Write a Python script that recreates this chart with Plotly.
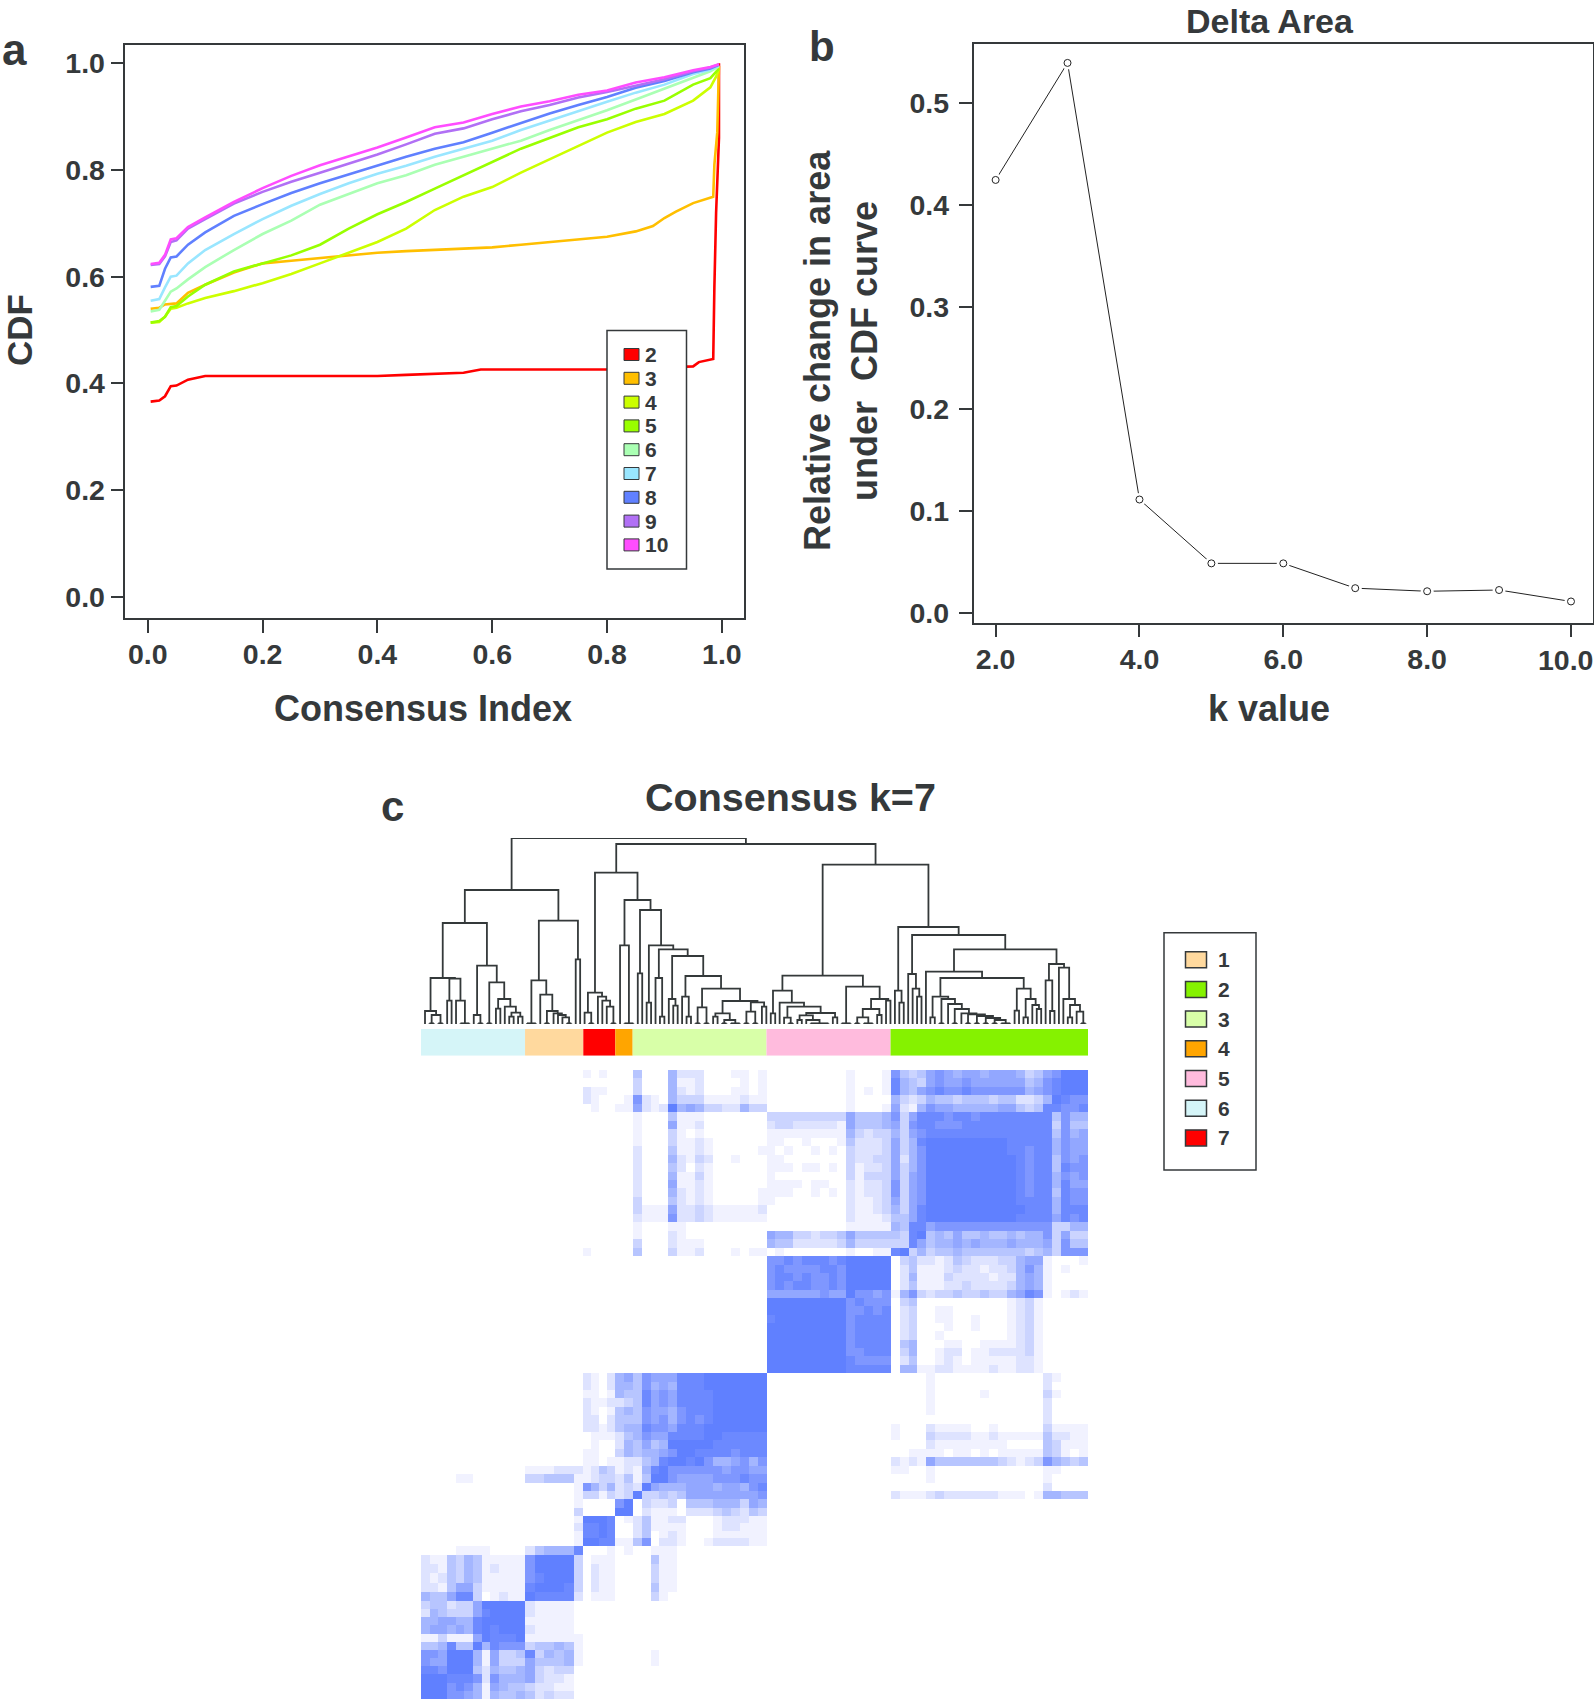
import plotly.graph_objects as go

W = 1594
H = 1699
INK = "#35393b"
FONT = "Liberation Sans"

# panel a: consensus CDF, one x grid per curve
cdf_x = [0.005, 0.02, 0.03, 0.04, 0.05, 0.07, 0.10, 0.15, 0.20, 0.25, 0.30, 0.35, 0.40, 0.45, 0.50,
         0.55, 0.60, 0.65, 0.70, 0.75, 0.80, 0.85, 0.90, 0.95, 0.98, 0.995]
cdf_10 = [0.624, 0.626, 0.641, 0.670, 0.672, 0.693, 0.711, 0.740, 0.766, 0.789, 0.809, 0.826, 0.842, 0.861, 0.880,
          0.889, 0.905, 0.919, 0.929, 0.941, 0.949, 0.964, 0.974, 0.987, 0.993, 0.998]
cdf_9 = [0.622, 0.624, 0.638, 0.665, 0.668, 0.690, 0.708, 0.737, 0.759, 0.778, 0.795, 0.812, 0.829, 0.848, 0.868,
         0.878, 0.895, 0.910, 0.922, 0.936, 0.946, 0.958, 0.970, 0.985, 0.992, 0.998]
cdf_8 = [0.581, 0.583, 0.615, 0.636, 0.638, 0.660, 0.683, 0.714, 0.736, 0.757, 0.775, 0.792, 0.808, 0.825, 0.840,
         0.852, 0.870, 0.888, 0.906, 0.922, 0.937, 0.954, 0.967, 0.983, 0.990, 0.997]
cdf_7 = [0.555, 0.558, 0.580, 0.600, 0.602, 0.625, 0.650, 0.680, 0.708, 0.733, 0.755, 0.775, 0.793, 0.808, 0.825,
         0.840, 0.855, 0.875, 0.893, 0.910, 0.928, 0.945, 0.960, 0.980, 0.988, 0.996]
cdf_6 = [0.535, 0.538, 0.555, 0.572, 0.578, 0.595, 0.618, 0.650, 0.680, 0.705, 0.735, 0.755, 0.775, 0.790, 0.810,
         0.825, 0.840, 0.855, 0.875, 0.893, 0.912, 0.932, 0.952, 0.973, 0.985, 0.994]
cdf_5_x = cdf_x[:25] + [0.99, 0.995]
cdf_5 = [0.514, 0.517, 0.525, 0.543, 0.545, 0.563, 0.585, 0.610, 0.625, 0.640, 0.660, 0.690, 0.717, 0.740, 0.765,
         0.790, 0.815, 0.840, 0.860, 0.880, 0.895, 0.915, 0.930, 0.960, 0.972, 0.985, 0.990]
cdf_4_x = cdf_x[:25] + [0.99, 0.995]
cdf_4 = [0.514, 0.515, 0.525, 0.540, 0.542, 0.550, 0.560, 0.573, 0.588, 0.605, 0.625, 0.645, 0.665, 0.690, 0.725,
         0.750, 0.768, 0.795, 0.820, 0.845, 0.870, 0.890, 0.905, 0.930, 0.955, 0.975, 0.990]
cdf_3_x = [0.005, 0.02, 0.03, 0.05, 0.07, 0.10, 0.15, 0.20, 0.25, 0.30, 0.35, 0.40, 0.45, 0.50, 0.55, 0.60, 0.65,
           0.70, 0.75, 0.80, 0.85, 0.88, 0.90, 0.92, 0.95, 0.985, 0.987, 0.992, 0.995]
cdf_3 = [0.540, 0.542, 0.548, 0.550, 0.570, 0.585, 0.608, 0.625, 0.630, 0.635, 0.641, 0.645, 0.648, 0.650, 0.653,
         0.655, 0.660, 0.665, 0.670, 0.675, 0.685, 0.695, 0.710, 0.722, 0.738, 0.750, 0.810, 0.870, 0.995]
cdf_2_x = [0.005, 0.02, 0.03, 0.04, 0.05, 0.07, 0.10, 0.20, 0.30, 0.40, 0.45, 0.50, 0.55, 0.58, 0.65, 0.70, 0.80,
           0.85, 0.90, 0.95, 0.96, 0.985, 0.987, 0.99, 0.995, 0.995]
cdf_2 = [0.366, 0.368, 0.376, 0.395, 0.396, 0.407, 0.414, 0.414, 0.414, 0.414, 0.416, 0.418, 0.420, 0.426, 0.426,
         0.426, 0.426, 0.428, 0.430, 0.432, 0.440, 0.446, 0.580, 0.720, 0.860, 1.000]

cdf_names = ["2", "3", "4", "5", "6", "7", "8", "9", "10"]
cdf_colors = ["#ff0000", "#ffbf00", "#ccff00", "#99ff00", "#aaffb3", "#99e6ff", "#6080ff", "#b170f5", "#ff4dff"]
cdf_curves = [(cdf_2_x, cdf_2), (cdf_3_x, cdf_3), (cdf_4_x, cdf_4), (cdf_5_x, cdf_5), (cdf_x, cdf_6),
              (cdf_x, cdf_7), (cdf_x, cdf_8), (cdf_x, cdf_9), (cdf_x, cdf_10)]

# panel b: delta area
delta_k = [2, 3, 4, 5, 6, 7, 8, 9, 10]
delta_area = [0.4244, 0.539, 0.1115, 0.049, 0.049, 0.0247, 0.0217, 0.0229, 0.0117]
delta_ticks = [2, 4, 6, 8, 10]
delta_tick_text = ["2.0", "4.0", "6.0", "8.0", ""]

# panel c: clusters in plot order, width (150 samples in all)
cluster_names = ["6", "1", "7", "4", "3", "5", "2"]
cluster_widths = [23.4, 13.1, 7.2, 3.9, 30.1, 27.9, 44.4]
cluster_cells = [12, 6, 4, 2, 15, 14, 22]
cluster_colors = ["#d5f5f8", "#ffd99e", "#ff0000", "#ffa500", "#d8ffa8", "#ffbbdd", "#85f200"]
legend_c_names = ["1", "2", "3", "4", "5", "6", "7"]
legend_c_colors = ["#ffd99e", "#85f200", "#d8ffa8", "#ffa500", "#ffbbdd", "#d5f5f8", "#ff0000"]

# consensus values by cluster pair, rows from the top of the picture, 0-9 with . for empty
green_green = ["7434676566566653467999", "8543676676666664578999", "8546787787777775678999",
               "5323544344434422359877", "6215766555556643488778", "7368887887888888884755",
               "6378877788888888883744", "5367888888888888884756", "6358999999999888885766",
               "6357999999999887885766", "6257999999999987884767", "6357999999999987884877",
               "6367999999999987885767", "7367999999999987885866", "7367999999999987884877",
               "6367999999999988885877", "5368999999999998885888", "4468999999999988886878",
               "5488677777777777773355", "4389454644544545573633", "3386455656555655563744",
               "8935344544444443453777"]
green_pink = [".........1...1", ".........1...1", ".........1.1.1", ".........1....", ".........1...1",
              "33333333364445", "23322222164445", "11111111153233", "11..1...142223", "1.1..1.1.32223",
              "11.......32233", "111.11.1.31223", "1........31333", "1111.11..21223", "111..1.1.21223",
              "1........21123", ".........21123", ".........21112", ".........11111", "65533233464444",
              "54422222353333", ".1.......1..11"]
green_ltgreen = ["4...5222...11.1", "3...5112....1.1", "3...5212...11.1", "721.53331111211", "621295653322533",
                 "1...4111.......", "1...6112.......", "1...31.1.......", "1...31121......", "2...41121.....1",
                 "2...52132..1...", "2...42.21......", "2...51131......", "2...61121......", "2...52121.....1",
                 "3...42121.....1", "311162232111112", "211172232111111", "1...11.........", "1...21.........",
                 "3...2111.......", "4...3112...1.11"]
green_orange = ["", "", "", ".1", "11"]
green_red = ["1.1.", "", "211.", "21..", ".1..", "", "", "", "", "", "", "", "", "", "", "", "", "", "", "", "", "1..."]
pink_pink = ["77878887899999", "78777788799999", "78878778799999", "78788778799999", "66666676697767",
             "99999999978777", "99999999977878", "89999999978888", "99999999978888", "99999999978888",
             "99999999978888", "99999999977888", "99999999987777", "99999999988888"]
pink_green = [".34221243222335661...1", ".24111232212235751.1..", ".25111322221225651....",
              ".24111223222235651....", "157323343343356871.121", ".34..........1231.....",
              ".23..11......1231.....", ".23..11..1...1231.....", ".23...1..1...1231.....",
              ".23..1.......1231.....", ".45...11..1111231.....", ".35..122.11222231.....",
              ".24..121.11111221.....", ".5511221111211221....."]
ltgreen_green = ["....1............21...", "....1............2....", "....1.....1......31...",
                 "....1............2....", "....1............2....", ".................2....",
                 "1...21111..1.....31111", "1...322221121111142211", "....211111111....43111",
                 "..1111.11.1.11111431.1", "2121644444443212375434", "11..1............11...",
                 "....1............1....", ".................2....", "211123222222111.155444"]
ltgreen_ltgreen = ["476668889999999", "475658889999999", "486768888999999", "486768888999999", "476657888999999",
                   "476757878999999", "587768889999999", "576688889988888", "464599999888888", "455679988887888",
                   "245899897556757", "158977777767766", "149976666777877", "296555666566578", "933434666666667"]
ltgreen_orange = ["56", "55", "54", "23", "45", "44", "45", "24", "25", "35", "12", "12", "24", "23", "23"]
ltgreen_red = ["21.2", "21.2", "11.1", "2112", "21.1", "22.2", "2212", ".111", ".1..", "11..", "11.1", "1243",
               "1233", "7535", "3313"]
ltgreen_peach = ["", "", "", "", "", "", "", "", "", "", "", "111222", "334441", ".....1", ".....1"]
ltgreen_cyan = ["", "", "", "", "", "", "", "", "", "", "", "", "....11"]
orange_orange = ["79", "99"]
orange_ltgreen = [".3223.444555365", ".2111.222343243"]
orange_peach = [".....1", ".....3"]
red_red = ["9998", "8898", "8898", "9988"]
red_orange = [".1", "", "", "11"]
red_ltgreen = ["241122...122211", "241111...122111", "24.121...111111", "47.221..1222211"]
red_peach = [".....1", ".....2", ".....1", ".....1"]
peach_peach = ["245558", "799993", "799993", "789993", "899983", "988882"]
peach_red = ["...1", ".111", ".211", ".211", ".211", ".111"]
peach_orange = [".1"]
peach_ltgreen = ["..111", "..411", "..311", "..311", "..411", "..31"]
peach_cyan = ["....1111", "211435411111", "221435412111", "212435411111", "221466311111", "5446883.1211"]
cyan_cyan = ["344233699999", "254333689999", "556655899999", "566565898999", "113111698889", "445844958777",
             "776999516334", "766999516333", "887999425445", "999888727555", "999787516544", "999776515445"]
cyan_peach = ["21111.", "21111.", "11111.", "21111.", "111111", "344541", "835451", "644451", "63233.", "63221.",
              "32211.", "42322."]
cyan_ltgreen = ["", "", "", "", "", "", "..1", "..1"]

heat_blocks = {
    (6, 6): green_green, (6, 5): green_pink, (6, 4): green_ltgreen, (6, 3): green_orange, (6, 2): green_red,
    (5, 5): pink_pink, (5, 6): pink_green,
    (4, 6): ltgreen_green, (4, 4): ltgreen_ltgreen, (4, 3): ltgreen_orange, (4, 2): ltgreen_red,
    (4, 1): ltgreen_peach, (4, 0): ltgreen_cyan,
    (3, 3): orange_orange, (3, 4): orange_ltgreen, (3, 1): orange_peach,
    (2, 2): red_red, (2, 3): red_orange, (2, 4): red_ltgreen, (2, 1): red_peach,
    (1, 1): peach_peach, (1, 2): peach_red, (1, 3): peach_orange, (1, 4): peach_ltgreen, (1, 0): peach_cyan,
    (0, 0): cyan_cyan, (0, 1): cyan_peach, (0, 4): cyan_ltgreen,
}

# dendrogram: (height, left, right), a bare number is that many leaves tied at the baseline
dendro_cluster6 = (303,
                   (138, (39, 1, (27, 2, 2)), (136, (70, 1, 1), (70, 1, 3))),
                   (175, (27, 1, 2), (125, 2, (75, (46, 1, 1), (52, 1, (34, (22, 1, 1), (22, 1, 1)))))))
dendro_cluster1 = (310, (131, 3, (88, 1, (39, 2, (32, 1, (27, 1, (20, 1, 2)))))), (194, 1, 1))
dendro_cluster7 = (94, (34, 1, 2), (82, 1, (70, 1, (52, 1, 2))))
dendro_cluster34 = (372, (236, 1, 3),
                    (342, (152, 1, 1),
                     (236, (64, 1, 1),
                      (224, (138, 1, (22, 1, 1)),
                       (204, (75, 1, (55, 1, 1)),
                        (144, (82, 1, (22, 1, 1)),
                         (106, (50, 2, 2),
                          (69, (32, (22, 1, 1), (12, 2, 3)), (65, (37, 2, 2), (52, 1, 1))))))))))
dendro_cluster5 = (145,
                   (100, (32, 1, 1),
                    (64, 1, (52, (19, 1, 2), (33, (26, (12, 1, 1), (12, 1, 5)), (20, 1, 1))))),
                   (112, 3, (75, (45, (20, 2, 3), (27, 1, 1)), (70, 1, 1))))
dendro_cluster2 = (291, (100, 1, (64, 1, 1)),
                   (267, (150, 1, (106, 1, (82, 1, 1))),
                    (224,
                     (157, 1,
                      (138,
                       (82, (20, 1, 1),
                        (75, 2, (60, 1, (45, 2, (32, 1, (29, 2, (24, 2, (18, 2, (12, 2, 3))))))))),
                       (106, (40, 1, 1), (75, (20, 1, 1), (57, 1, (45, 1, 1)))))),
                     (180, (131, 1, (39, 1, 1)), (169, 1, (75, 1, (57, (20, 1, 1), (37, 1, 2))))))))
dendro_root = (558,
               (402, dendro_cluster6, dendro_cluster1),
               (540, (454, dendro_cluster7, dendro_cluster34), (478, dendro_cluster5, dendro_cluster2)))


def px_x(x):
    return x / W


def px_y(y):
    return 1 - y / H


def text_note(text, x, y, size, angle=0):
    return dict(text=text, x=px_x(x), y=px_y(y), xref="paper", yref="paper", showarrow=False, textangle=angle,
                xanchor="center", yanchor="middle", align="center",
                font=dict(family=FONT, size=size, color=INK, weight="bold"))


def box_shape(x0, y0, x1, y1, fill, line=INK, width=1.5):
    return dict(type="rect", xref="paper", yref="paper", x0=px_x(x0), x1=px_x(x1), y0=px_y(y0), y1=px_y(y1),
                fillcolor=fill, line=dict(color=line, width=width))


# heatmap matrix from the blocks, bottom row first
heat_rows = []
for row_c in range(len(cluster_names)):
    for r in range(cluster_cells[row_c]):
        row = []
        for col_c in range(len(cluster_names)):
            block = heat_blocks.get((row_c, col_c), [])
            text = block[r] if r < len(block) else ""
            text = text.ljust(cluster_cells[col_c], ".")[:cluster_cells[col_c]]
            row += [0 if ch == "." else int(ch) for ch in text]
        heat_rows.append(row)
    # blocks are written top to bottom inside a cluster, the axis runs upward
    heat_rows[-cluster_cells[row_c]:] = heat_rows[-cluster_cells[row_c]:][::-1]

heat_edges = [0.0]
for c in range(len(cluster_names)):
    step = cluster_widths[c] / cluster_cells[c]
    for i in range(cluster_cells[c]):
        heat_edges.append(heat_edges[-1] + step)

# walk the dendrogram into one line trace
tree_x = []
tree_y = []
leaf_at = [0]


def walk(node):
    if isinstance(node, int):
        xs = list(range(leaf_at[0], leaf_at[0] + node))
        leaf_at[0] += node
        if node == 1:
            return xs[0], 0
        tree_x.extend([xs[0], xs[-1], None])
        tree_y.extend([2, 2, None])
        for x in xs:
            tree_x.extend([x, x, None])
            tree_y.extend([0, 2, None])
        return sum(xs) / node, 2
    xl, hl = walk(node[1])
    xr, hr = walk(node[2])
    tree_x.extend([xl, xl, xr, xr, None])
    tree_y.extend([hl, node[0], node[0], hr, None])
    return (xl + xr) / 2, node[0]


walk(dendro_root)

fig = go.Figure()

# panel a
for name, color, (xs, ys) in zip(cdf_names, cdf_colors, cdf_curves):
    fig.add_trace(go.Scatter(x=xs, y=ys, mode="lines", name=name, line=dict(color=color, width=2.6),
                             xaxis="x", yaxis="y", showlegend=False))

# panel b, the white marker opens the gap round each point as in an R type "b" line
fig.add_trace(go.Scatter(x=delta_k, y=delta_area, mode="lines", line=dict(color="#222222", width=1),
                         xaxis="x2", yaxis="y2", showlegend=False))
fig.add_trace(go.Scatter(x=delta_k, y=delta_area, mode="markers", marker=dict(color="white", size=13),
                         xaxis="x2", yaxis="y2", showlegend=False))
fig.add_trace(go.Scatter(x=delta_k, y=delta_area, mode="markers",
                         marker=dict(color="white", size=7, line=dict(color="#222222", width=1)),
                         xaxis="x2", yaxis="y2", showlegend=False))

# panel c
fig.add_trace(go.Heatmap(x=heat_edges, y=heat_edges, z=heat_rows, zmin=0, zmax=9, showscale=False,
                         colorscale=[[0, "#ffffff"], [1 / 9, "#f1f2ff"], [5 / 9, "#a4b6ff"], [7 / 9, "#7f97ff"],
                                     [8 / 9, "#6c89ff"], [1, "#6080ff"]],
                         xaxis="x3", yaxis="y3"))
band_starts = [sum(cluster_widths[:i]) for i in range(len(cluster_widths))]
fig.add_trace(go.Bar(x=cluster_widths, base=band_starts, y=[0] * len(cluster_widths), orientation="h", width=1,
                     marker=dict(color=cluster_colors, line=dict(width=0)),
                     xaxis="x4", yaxis="y4", showlegend=False))
fig.add_trace(go.Scatter(x=tree_x, y=tree_y, mode="lines", line=dict(color="#34393a", width=1.8),
                         xaxis="x5", yaxis="y5", showlegend=False))

axis_style = dict(showgrid=False, zeroline=False, showline=True, mirror=True, linecolor=INK, linewidth=1.5,
                  ticks="outside", ticklen=13, tickwidth=1.5, tickcolor=INK,
                  tickfont=dict(family=FONT, size=28.5, color=INK, weight="bold"))
hidden = dict(visible=False, showgrid=False, zeroline=False)

shapes = []
annotations = [
    text_note("a", 15, 49, 44), text_note("b", 822, 46, 42), text_note("c", 392, 807, 42),
    text_note("Consensus Index", 423, 708, 36), text_note("CDF", 19, 330, 35, -90),
    text_note("Delta Area", 1270, 21, 34), text_note("k value", 1269, 708, 36),
    text_note("Relative change in area<br>under  CDF curve", 841, 351, 36, -90),
    text_note("Consensus k=7", 790, 797, 39.5),
    text_note("10.0", 1565, 660, 28.5),
]

# legend of panel a
shapes.append(box_shape(607, 330.5, 686.5, 569, "white"))
for i, (name, color) in enumerate(zip(cdf_names, cdf_colors)):
    y = 354.5 + i * 23.8
    shapes.append(box_shape(624, y - 6, 639, y + 6, color, width=1))
    annotations.append(dict(text=name, x=px_x(643), y=px_y(y), xref="paper", yref="paper", showarrow=False,
                            xanchor="left", yanchor="middle",
                            font=dict(family=FONT, size=21, color=INK, weight="bold")))

# legend of panel c
shapes.append(box_shape(1164, 932.7, 1256, 1170, "white"))
for i, (name, color) in enumerate(zip(legend_c_names, legend_c_colors)):
    y = 959.7 + i * 29.7
    shapes.append(box_shape(1185.5, y - 8, 1206.5, y + 8, color))
    annotations.append(text_note(name, 1224, y, 21))

fig.update_layout(
    width=W, height=H, autosize=False, margin=dict(l=0, r=0, t=0, b=0, pad=0, autoexpand=False),
    paper_bgcolor="white", plot_bgcolor="white", showlegend=False, barmode="overlay",
    shapes=shapes, annotations=annotations,
    xaxis=dict(axis_style, domain=[px_x(125.4), px_x(744)], range=[-0.039, 1.0386],
               tickvals=[0, 0.2, 0.4, 0.6, 0.8, 1.0], tickformat=".1f", tickangle=0, ticklabelstandoff=-3),
    yaxis=dict(axis_style, domain=[px_y(617.8), px_y(44.5)], range=[-0.0392, 1.0352],
               tickvals=[0, 0.2, 0.4, 0.6, 0.8, 1.0], tickformat=".1f"),
    xaxis2=dict(axis_style, domain=[px_x(973.6), px_x(1592.5)], range=[1.694, 10.299],
                tickvals=delta_ticks, ticktext=delta_tick_text, tickangle=0, anchor="y2", ticklabelstandoff=-2),
    yaxis2=dict(axis_style, domain=[px_y(622.5), px_y(43.5)], range=[-0.0089, 0.558],
                tickvals=[0, 0.1, 0.2, 0.3, 0.4, 0.5], tickformat=".1f", anchor="x2", ticklabelstandoff=4),
    xaxis3=dict(hidden, domain=[px_x(421), px_x(1088)], range=[0, 150], anchor="y3"),
    yaxis3=dict(hidden, domain=[px_y(1699), px_y(1070)], range=[0, 150], anchor="x3"),
    xaxis4=dict(hidden, domain=[px_x(421), px_x(1088)], range=[0, 150], anchor="y4"),
    yaxis4=dict(hidden, domain=[px_y(1055.7), px_y(1029)], range=[-0.5, 0.5], anchor="x4"),
    xaxis5=dict(hidden, domain=[px_x(421), px_x(1088)], range=[-0.902, 149.56], anchor="y5"),
    yaxis5=dict(hidden, domain=[px_y(1024), px_y(838)], range=[0, 558], anchor="x5"),
)

page_fix = "document.body.style.margin='0';"
fig.write_html("out.html", post_script=page_fix, config={"displayModeBar": False})
